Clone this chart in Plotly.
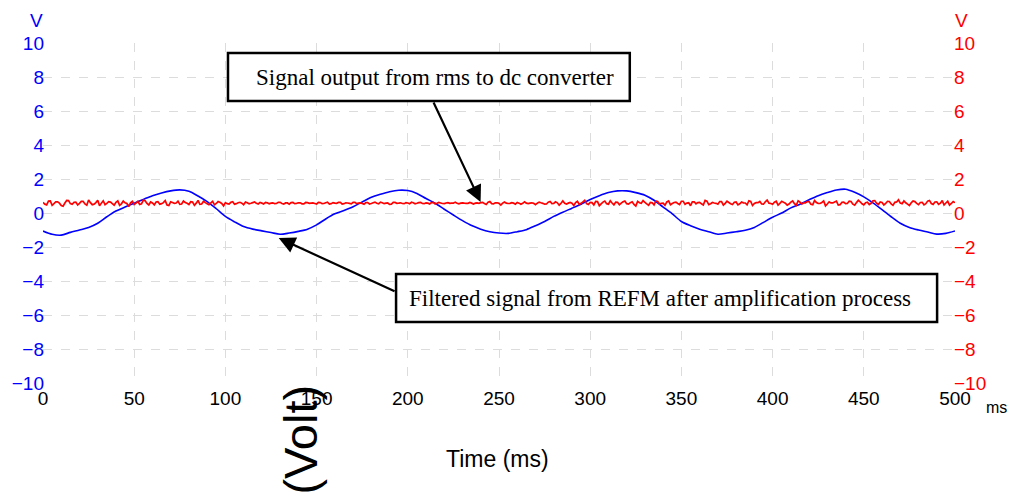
import plotly.graph_objects as go

# ---------------- data ----------------
t_blue = list(range(0, 501, 5))  # ms
v_blue = [
    -1.06, -1.25, -1.30, -1.14, -1.00, -0.85, -0.60, -0.22, 0.12, 0.35,
    0.58, 0.80, 1.02, 1.18, 1.30, 1.36, 1.28, 1.00, 0.67, 0.25,
    -0.20, -0.52, -0.80, -0.95, -1.05, -1.15, -1.25, -1.18, -1.08, -0.95,
    -0.70, -0.35, -0.05, 0.15, 0.37, 0.65, 0.92, 1.10, 1.25, 1.34,
    1.32, 1.15, 0.85, 0.57, 0.22, -0.12, -0.45, -0.74, -0.95, -1.10,
    -1.18, -1.20, -1.10, -0.98, -0.75, -0.50, -0.20, 0.05, 0.28, 0.52,
    0.80, 1.02, 1.20, 1.30, 1.30, 1.20, 1.05, 0.75, 0.35, -0.05,
    -0.50, -0.75, -0.95, -1.10, -1.25, -1.18, -1.10, -1.02, -0.85, -0.55,
    -0.25, 0.00, 0.30, 0.52, 0.78, 1.02, 1.20, 1.35, 1.40, 1.22,
    0.95, 0.60, 0.20, -0.22, -0.60, -0.85, -1.00, -1.12, -1.24, -1.20,
    -1.06,
]

# red trace, samples at even milliseconds (0, 2, ..., 500)
v_red_even = [
    0.62, 0.48, 0.71, 0.55, 0.66, 0.44, 0.59, 0.73, 0.51, 0.64,
    0.57, 0.69, 0.46, 0.61, 0.52, 0.75, 0.58, 0.49, 0.67, 0.55,
    0.63, 0.45, 0.70, 0.56, 0.60, 0.50, 0.68, 0.54, 0.72, 0.47,
    0.59, 0.65, 0.52, 0.61, 0.47, 0.66, 0.57, 0.70, 0.53, 0.62,
    0.50, 0.64, 0.58, 0.51, 0.69, 0.55, 0.60, 0.48, 0.67, 0.56,
    0.61, 0.52, 0.66, 0.55, 0.63, 0.49, 0.60, 0.57, 0.65, 0.53,
    0.58, 0.62, 0.54, 0.60, 0.56, 0.63, 0.53, 0.59, 0.61, 0.55,
    0.60, 0.54, 0.62, 0.57, 0.59, 0.53, 0.61, 0.56, 0.64, 0.55,
    0.58, 0.62, 0.53, 0.60, 0.57, 0.63, 0.55, 0.59, 0.52, 0.61,
    0.56, 0.64, 0.54, 0.60, 0.58, 0.51, 0.62, 0.57, 0.60, 0.55,
    0.59, 0.63, 0.54, 0.61, 0.56, 0.60, 0.53, 0.62, 0.57, 0.59,
    0.55, 0.61, 0.58, 0.64, 0.54, 0.60, 0.57, 0.62, 0.53, 0.59,
    0.61, 0.56, 0.63, 0.55, 0.60, 0.57, 0.58, 0.58, 0.57, 0.58,
    0.62, 0.51, 0.66, 0.55, 0.60, 0.49, 0.64, 0.57, 0.53, 0.68,
    0.56, 0.60, 0.57, 0.57, 0.58, 0.57, 0.61, 0.50, 0.65, 0.55,
    0.62, 0.47, 0.67, 0.54, 0.70, 0.52, 0.59, 0.64, 0.48, 0.66,
    0.55, 0.61, 0.50, 0.68, 0.57, 0.63, 0.46, 0.60, 0.71, 0.53,
    0.58, 0.65, 0.49, 0.62, 0.56, 0.69, 0.51, 0.60, 0.66, 0.54,
    0.63, 0.47, 0.70, 0.55, 0.59, 0.52, 0.67, 0.57, 0.62, 0.50,
    0.65, 0.54, 0.60, 0.48, 0.68, 0.56, 0.61, 0.53, 0.66, 0.58,
    0.51, 0.69, 0.57, 0.63, 0.46, 0.64, 0.55, 0.72, 0.52, 0.60,
    0.67, 0.49, 0.62, 0.56, 0.71, 0.53, 0.59, 0.65, 0.47, 0.63,
    0.55, 0.70, 0.52, 0.61, 0.66, 0.48, 0.64, 0.57, 0.73, 0.50,
    0.62, 0.56, 0.68, 0.45, 0.65, 0.58, 0.71, 0.52, 0.60, 0.67,
    0.49, 0.63, 0.55, 0.74, 0.51, 0.66, 0.58, 0.47, 0.69, 0.56,
    0.61,
]

# red trace, samples at odd milliseconds (1, 3, ..., 499)
v_red_odd = [
    0.52, 0.70, 0.45, 0.66, 0.58, 0.40, 0.74, 0.55, 0.63, 0.47,
    0.68, 0.53, 0.77, 0.49, 0.61, 0.42, 0.72, 0.57, 0.64, 0.46,
    0.71, 0.54, 0.60, 0.38, 0.69, 0.58, 0.50, 0.76, 0.56, 0.65,
    0.48, 0.67, 0.55, 0.73, 0.44, 0.62, 0.59, 0.51, 0.70, 0.57,
    0.66, 0.45, 0.74, 0.53, 0.61, 0.49, 0.69, 0.56, 0.63, 0.42,
    0.55, 0.63, 0.52, 0.60, 0.58, 0.64, 0.54, 0.61, 0.57, 0.62,
    0.53, 0.60, 0.58, 0.55, 0.63, 0.56, 0.59, 0.52, 0.62, 0.57,
    0.60, 0.54, 0.61, 0.58, 0.56, 0.63, 0.55, 0.60, 0.53, 0.61,
    0.57, 0.62, 0.55, 0.59, 0.54, 0.63, 0.58, 0.56, 0.61, 0.53,
    0.60, 0.57, 0.64, 0.55, 0.59, 0.52, 0.62, 0.58, 0.56, 0.61,
    0.54, 0.60, 0.57, 0.63, 0.55, 0.58, 0.61, 0.53, 0.62, 0.56,
    0.59, 0.57, 0.58, 0.57, 0.58, 0.58, 0.57, 0.58, 0.58, 0.57,
    0.63, 0.50, 0.67, 0.54, 0.60, 0.47, 0.65, 0.56, 0.61, 0.52,
    0.58, 0.57, 0.58, 0.58, 0.57, 0.58, 0.60, 0.52, 0.64, 0.55,
    0.66, 0.46, 0.71, 0.53, 0.62, 0.44, 0.69, 0.57, 0.75, 0.50,
    0.61, 0.68, 0.43, 0.64, 0.55, 0.72, 0.48, 0.63, 0.58, 0.70,
    0.52, 0.66, 0.41, 0.60, 0.73, 0.54, 0.62, 0.47, 0.68, 0.57,
    0.45, 0.71, 0.56, 0.64, 0.50, 0.69, 0.58, 0.43, 0.66, 0.61,
    0.54, 0.74, 0.49, 0.62, 0.57, 0.67, 0.46, 0.70, 0.55, 0.63,
    0.48, 0.65, 0.59, 0.72, 0.44, 0.61, 0.68, 0.52, 0.76, 0.56,
    0.63, 0.47, 0.69, 0.58, 0.53, 0.71, 0.45, 0.64, 0.60, 0.67,
    0.51, 0.73, 0.57, 0.62, 0.42, 0.66, 0.59, 0.70, 0.49, 0.64,
    0.56, 0.68, 0.46, 0.75, 0.54, 0.61, 0.50, 0.72, 0.58, 0.65,
    0.47, 0.69, 0.53, 0.63, 0.78, 0.55, 0.60, 0.44, 0.71, 0.57,
    0.62, 0.48, 0.70, 0.56, 0.65, 0.51, 0.73, 0.59, 0.46, 0.67,
]

t_red = list(range(0, 501))  # ms
v_red = []
for e, o in zip(v_red_even, v_red_odd):
    v_red.extend([e, o])
v_red.append(v_red_even[-1])

x_ticks = list(range(0, 501, 50))
y_ticks = list(range(-10, 11, 2))

label_red = "Signal output from rms to dc converter"
label_blue = "Filtered signal from REFM after amplification process"

# ---------------- layout helpers (pixel -> paper / data) ----------------
W, H = 1011, 502
PL, PR, PT, PB = 38, 955, 43, 383  # plot-area edges in pixels


def tx(px):
    return (px - PL) / (PR - PL) * 500.0


def vy(py):
    return 10.0 - (py - PT) / (PB - PT) * 20.0


def pxp(px):
    return (px - PL) / (PR - PL)


def pyp(py):
    return (PB - py) / (PB - PT)


fig = go.Figure()
fig.add_trace(go.Scatter(x=t_red, y=v_red, mode="lines",
                         line=dict(color="#ff0000", width=1.7, simplify=False),
                         yaxis="y2", showlegend=False))
fig.add_trace(go.Scatter(x=t_blue, y=v_blue, mode="lines",
                         line=dict(color="#0000ff", width=1.6, shape="spline",
                                   smoothing=0.8),
                         showlegend=False))

sans = "Liberation Sans, Arial, sans-serif"
serif = "Liberation Serif, Times New Roman, serif"

grid = dict(showgrid=True, gridcolor="#dcdcdc", griddash="dash", gridwidth=1,
            zeroline=False, showline=False, ticks="")

fig.update_layout(
    width=W, height=H,
    margin=dict(l=PL, r=W - PR, t=PT, b=H - PB),
    paper_bgcolor="white", plot_bgcolor="white",
    xaxis=dict(range=[0, 500], tickvals=x_ticks, **grid,
               tickfont=dict(family=sans, size=19, color="black"),
               ticklabelstandoff=2),
    yaxis=dict(range=[-10, 10], tickvals=y_ticks, **grid,
               tickfont=dict(family=sans, size=19, color="#0000ff"),
               ticklabelstandoff=-2),
    yaxis2=dict(range=[-10, 10], tickvals=y_ticks, overlaying="y", side="right",
                showgrid=False, zeroline=False, showline=False, ticks="",
                tickfont=dict(family=sans, size=19, color="#ff0000"),
                ticklabelstandoff=-2),
)

# annotation boxes
for (x0, y0, x1, y1) in [(224, 53, 628, 101), (393, 274, 937, 322)]:
    fig.add_shape(type="rect", xref="paper", yref="paper",
                  x0=pxp(x0), x1=pxp(x1), y0=pyp(y1), y1=pyp(y0),
                  line=dict(color="black", width=2.5), fillcolor="white",
                  layer="above")


def txt(px, py, s, size, color, angle=0, family=sans):
    return dict(x=pxp(px), y=pyp(py), xref="paper", yref="paper", text=s,
                showarrow=False, textangle=angle, xanchor="center", yanchor="middle",
                font=dict(family=family, size=size, color=color))


ann = []
ann.append(txt(432, 77, label_red, 23, "black", family=serif))
ann.append(txt(658, 298, label_blue, 23, "black", family=serif))
# arrows
ann.append(dict(x=tx(478), y=vy(202), ax=tx(430), ay=vy(101),
                xref="x", yref="y", axref="x", ayref="y", text="",
                showarrow=True, arrowhead=2, arrowsize=1.5, arrowwidth=2.2,
                arrowcolor="black"))
ann.append(dict(x=tx(275), y=vy(238), ax=tx(393), ay=vy(292),
                xref="x", yref="y", axref="x", ayref="y", text="",
                showarrow=True, arrowhead=2, arrowsize=1.5, arrowwidth=2.2,
                arrowcolor="black"))
# units & titles
ann.append(txt(31, 20, "V", 19, "#0000ff"))
ann.append(txt(962, 20, "V", 19, "#ff0000"))
ann.append(txt(997, 407, "ms", 16, "black"))
ann.append(txt(495, 459, "Time (ms)", 23, "black"))
ann.append(txt(296, 440, "(Volt)", 47, "black", -90))
fig.update_layout(annotations=ann)

fig.write_html("out.html")
